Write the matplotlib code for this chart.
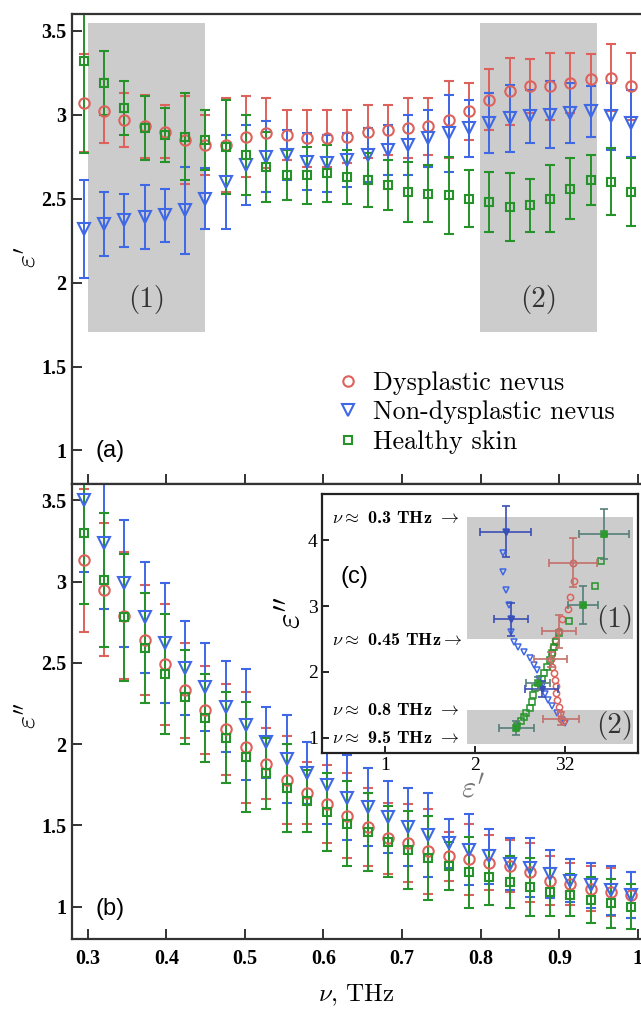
import numpy as np
import matplotlib.pyplot as plt
from matplotlib.lines import Line2D
from matplotlib.patches import Rectangle

plt.rcParams['mathtext.fontset'] = 'cm'
plt.rcParams['font.family'] = 'Liberation Serif'

# frequency grid, THz
freq = [0.295, 0.3208, 0.3466, 0.3724, 0.3982, 0.424, 0.4498, 0.4756, 0.5014, 0.5272,
        0.553, 0.5788, 0.6046, 0.6304, 0.6562, 0.682, 0.7078, 0.7336, 0.7594, 0.7852,
        0.811, 0.8368, 0.8626, 0.8884, 0.9142, 0.94, 0.9658, 0.9916]

# (a) real part eps'
eps1_dys = [3.07, 3.02, 2.97, 2.93, 2.90, 2.85, 2.82, 2.82, 2.87, 2.89, 2.88, 2.86, 2.86, 2.87,
            2.90, 2.91, 2.92, 2.93, 2.97, 3.02, 3.09, 3.14, 3.17, 3.17, 3.19, 3.21, 3.22, 3.17]
eps1_non = [2.32, 2.35, 2.37, 2.39, 2.40, 2.43, 2.50, 2.60, 2.70, 2.75, 2.76, 2.72, 2.71, 2.73,
            2.76, 2.79, 2.82, 2.86, 2.89, 2.92, 2.95, 2.98, 2.99, 3.00, 3.01, 3.02, 2.99, 2.95]
eps1_hea = [3.32, 3.19, 3.04, 2.92, 2.88, 2.87, 2.85, 2.81, 2.76, 2.69, 2.64, 2.64, 2.65, 2.63,
            2.61, 2.58, 2.54, 2.53, 2.52, 2.50, 2.48, 2.45, 2.46, 2.50, 2.56, 2.61, 2.60, 2.54]
err1 = [0.29, 0.19, 0.16, 0.19, 0.16, 0.26, 0.18, 0.28, 0.24, 0.21, 0.15, 0.17, 0.17, 0.16,
        0.16, 0.15, 0.18, 0.17, 0.23, 0.17, 0.18, 0.20, 0.16, 0.20, 0.18, 0.15, 0.20, 0.20]
err1_hea = [0.55, 0.19, 0.16, 0.19, 0.16, 0.26, 0.18, 0.28, 0.24, 0.21, 0.15, 0.17, 0.17, 0.16,
            0.16, 0.15, 0.18, 0.17, 0.23, 0.17, 0.18, 0.20, 0.16, 0.20, 0.18, 0.15, 0.20, 0.20]

# (b) imaginary part eps''
eps2_dys = [3.13, 2.95, 2.79, 2.64, 2.49, 2.33, 2.21, 2.09, 1.98, 1.88, 1.78, 1.70, 1.63, 1.56,
            1.49, 1.42, 1.39, 1.34, 1.31, 1.29, 1.27, 1.25, 1.21, 1.16, 1.14, 1.11, 1.09, 1.07]
eps2_non = [3.50, 3.24, 2.99, 2.78, 2.62, 2.47, 2.35, 2.23, 2.12, 2.01, 1.91, 1.82, 1.75, 1.67,
            1.61, 1.55, 1.49, 1.44, 1.39, 1.35, 1.31, 1.26, 1.24, 1.20, 1.16, 1.13, 1.10, 1.07]
eps2_hea = [3.30, 3.01, 2.78, 2.59, 2.43, 2.29, 2.16, 2.04, 1.92, 1.82, 1.73, 1.65, 1.58, 1.51,
            1.46, 1.40, 1.35, 1.30, 1.25, 1.21, 1.18, 1.15, 1.12, 1.09, 1.07, 1.04, 1.02, 1.00]
err2 = [0.44, 0.41, 0.39, 0.34, 0.37, 0.29, 0.27, 0.28, 0.34, 0.22, 0.27, 0.19, 0.24, 0.26,
        0.24, 0.22, 0.24, 0.26, 0.15, 0.22, 0.17, 0.16, 0.18, 0.15, 0.13, 0.14, 0.15, 0.14]

# (c) inset: eps'' vs eps'
ins_non_x = [2.34, 2.31, 2.31, 2.34, 2.38, 2.40, 2.40, 2.43, 2.48, 2.54, 2.61, 2.65, 2.69, 2.71,
             2.74, 2.78, 2.81, 2.85, 2.91, 2.97, 3.00]
ins_non_y = [4.13, 3.80, 3.52, 3.25, 3.02, 2.81, 2.61, 2.46, 2.38, 2.31, 2.21, 2.11, 2.03, 1.90,
             1.78, 1.67, 1.58, 1.48, 1.38, 1.27, 1.22]
ins_dys_x = [3.09, 3.10, 3.06, 3.03, 2.97, 2.93, 2.89, 2.87, 2.85, 2.84, 2.86, 2.88, 2.89, 2.90,
             2.90, 2.91, 2.93, 2.94, 2.96, 2.98]
ins_dys_y = [3.66, 3.38, 3.13, 2.95, 2.80, 2.62, 2.48, 2.38, 2.28, 2.19, 2.08, 1.98, 1.88, 1.78,
             1.68, 1.58, 1.47, 1.37, 1.29, 1.25]
ins_hea_x = [3.43, 3.40, 3.33, 3.20, 3.04, 2.93, 2.90, 2.88, 2.85, 2.83, 2.80, 2.77, 2.74, 2.70,
             2.67, 2.64, 2.63, 2.61, 2.57, 2.54, 2.51, 2.47, 2.46]
ins_hea_y = [4.09, 3.68, 3.30, 3.01, 2.78, 2.59, 2.46, 2.38, 2.28, 2.18, 2.08, 1.99, 1.90, 1.83,
             1.75, 1.65, 1.55, 1.46, 1.38, 1.31, 1.25, 1.18, 1.15]
# points with error crosses: x, y, xerr, yerr
ins_non_err = [[2.34, 2.40, 2.74], [4.13, 2.80, 1.74], [0.28, 0.19, 0.18], [0.39, 0.25, 0.12]]
ins_dys_err = [[3.09, 2.93, 2.84, 2.96], [3.66, 2.62, 2.19, 1.29], [0.27, 0.19, 0.18, 0.20], [0.37, 0.25, 0.12, 0.10]]
ins_hea_err = [[3.43, 3.20, 2.70, 2.46], [4.09, 3.01, 1.83, 1.15], [0.28, 0.17, 0.13, 0.19], [0.38, 0.29, 0.10, 0.10]]

labels = ['Dysplastic nevus', 'Non-dysplastic nevus', 'Healthy skin']
red, blue, green = '#dd625c', '#3f68e6', '#25932a'

fig = plt.figure(figsize=(6.41, 10.10), dpi=100)
ax1 = fig.add_axes([72/641, 526/1010, 569/641, 470/1010])
ax2 = fig.add_axes([72/641, 71/1010, 569/641, 455/1010])

def style(ax):
    for s in ['top', 'bottom', 'left']:
        ax.spines[s].set_linewidth(1.6)
        ax.spines[s].set_color('#333333')
    ax.spines['right'].set_visible(False)
    ax.set_xlim(0.28, 1.004)
    ax.set_ylim(0.8, 3.6)
    ax.set_xticks([0.3, 0.4, 0.5, 0.6, 0.7, 0.8, 0.9, 1.0])
    ax.set_yticks([1, 1.5, 2, 2.5, 3, 3.5])
    ax.set_yticklabels(['1', '1.5', '2', '2.5', '3', '3.5'])
    ax.tick_params(direction='in', length=7, width=1.4, color='#333333', labelsize=14.5,
                   top=False, right=False, pad=4)
    for t in ax.get_yticklabels() + ax.get_xticklabels():
        t.set_fontweight('bold')

style(ax1)
style(ax2)
ax1.tick_params(labelbottom=False)
ax2.set_xticklabels(['0.3', '0.4', '0.5', '0.6', '0.7', '0.8', '0.9', '1'])
ax2.tick_params(axis='x', pad=7)
for t in ax2.get_xticklabels():
    t.set_fontweight('bold')

ekw = dict(ls='none', capsize=3.5, elinewidth=1.4, capthick=1.4, mfc='none', mew=1.5)
ax1.errorbar(freq, eps1_dys, yerr=err1, marker='o', ms=7.5, color=red, **ekw)
ax1.errorbar(freq, eps1_non, yerr=err1, marker='v', ms=8.5, color=blue, **ekw)
ax1.errorbar(freq, eps1_hea, yerr=err1_hea, marker='s', ms=6, color=green, **ekw)
ax2.errorbar(freq, eps2_dys, yerr=err2, marker='o', ms=7.5, color=red, **ekw)
ax2.errorbar(freq, eps2_non, yerr=err2, marker='v', ms=8.5, color=blue, **ekw)
ax2.errorbar(freq, eps2_hea, yerr=err2, marker='s', ms=6, color=green, **ekw)

# shaded regions in (a)
for x0, x1, tx in [(0.3, 0.449, '(1)'), (0.799, 0.948, '(2)')]:
    ax1.add_patch(Rectangle((x0, 1.707), x1 - x0, 1.84, color='#cccccc', zorder=0, lw=0))
    ax1.text((x0 + x1) / 2, 1.9, tx, family='cmr10', fontsize=21, color='#333333',
             ha='center', va='center')

handles = [Line2D([], [], ls='none', marker='o', ms=7.5, mfc='none', mec=red, mew=1.5),
           Line2D([], [], ls='none', marker='v', ms=8.5, mfc='none', mec=blue, mew=1.5),
           Line2D([], [], ls='none', marker='s', ms=6, mfc='none', mec=green, mew=1.5)]
ax1.legend(handles, labels, loc='upper left', bbox_to_anchor=(0.4675, 0.240), frameon=False,
           prop={'family': 'cmr10', 'size': 18.8}, handlelength=0.8, handletextpad=0.55,
           labelspacing=0.22, borderpad=0, borderaxespad=0)

ax1.text(0.041, 0.07, '(a)', transform=ax1.transAxes, family='Liberation Sans', fontsize=17,
         va='center')
ax2.text(0.041, 0.065, '(b)', transform=ax2.transAxes, family='Liberation Sans', fontsize=17,
         va='center')

fig.text(29/641, 1 - 257/1010, r"$\varepsilon'$", fontsize=20, rotation=90, ha='center', va='center')
fig.text(29/641, 1 - 715/1010, r"$\varepsilon''$", fontsize=20, rotation=90, ha='center', va='center')
fig.text(356/641, 1 - 995/1010, r"$\nu$, THz", family='cmr10', fontsize=18, ha='center', va='center')

# inset (c)
ins = fig.add_axes([322/641, 257/1010, 316/641, 259/1010])
ins.set_xlim(0.30, 3.81)
ins.set_ylim(0.77, 4.70)
for s in ins.spines.values():
    s.set_linewidth(1.6)
    s.set_color('#222222')
ins.set_xticks([1, 2, 3])
ins.set_xticklabels(['1', '2', '32'])
ins.set_yticks([1, 2, 3, 4])
ins.tick_params(direction='in', length=5, width=1.2, labelsize=14, pad=3)
for y0, y1 in [(2.50, 4.35), (0.91, 1.42)]:
    ins.add_patch(Rectangle((1.91, y0), 1.85, y1 - y0, color='#cccccc', zorder=0, lw=0))
ins.text(0.927, 0.514, '(1)', transform=ins.transAxes, family='cmr10', fontsize=21,
         color='#333333', ha='center', va='center')
ins.text(0.927, 0.108, '(2)', transform=ins.transAxes, family='cmr10', fontsize=21,
         color='#333333', ha='center', va='center')

ins.plot(ins_non_x, ins_non_y, ls='none', marker='v', ms=4.5, mfc='none', mec=blue, mew=1.1)
ins.plot(ins_dys_x, ins_dys_y, ls='none', marker='o', ms=4.5, mfc='none', mec=red, mew=1.1)
ins.plot(ins_hea_x, ins_hea_y, ls='none', marker='s', ms=4, mfc='none', mec=green, mew=1.1)
ins.errorbar(ins_non_err[0], ins_non_err[1], xerr=ins_non_err[2], yerr=ins_non_err[3], ls='none',
             marker='v', ms=4, color='#3a4fb5', capsize=3, elinewidth=1.2, capthick=1.2)
ins.errorbar(ins_dys_err[0], ins_dys_err[1], xerr=ins_dys_err[2], yerr=ins_dys_err[3], ls='none',
             marker='o', ms=4.5, mfc='none', color='#c4706a', capsize=3, elinewidth=1.2, capthick=1.2)
ins.errorbar(ins_hea_err[0], ins_hea_err[1], xerr=ins_hea_err[2], yerr=ins_hea_err[3], ls='none',
             marker='o', ms=4, mfc='#2a9a2a', mec='#2a9a2a', color='#557f78', capsize=3,
             elinewidth=1.2, capthick=1.2)

for yy, tx in [(0.907, r'$\nu\approx$ 0.3 THz $\rightarrow$'),
               (0.440, r'$\nu\approx$ 0.45 THz$\rightarrow$'),
               (0.166, r'$\nu\approx$ 0.8 THz $\rightarrow$'),
               (0.058, r'$\nu\approx$ 9.5 THz $\rightarrow$')]:
    ins.text(0.032, yy, tx, transform=ins.transAxes, family='cmb10', fontsize=13, va='center')
ins.text(0.057, 0.68, '(c)', transform=ins.transAxes, family='Liberation Sans', fontsize=17,
         va='center')
ins.text(0.478, -0.14, r"$\varepsilon'$", transform=ins.transAxes, fontsize=22, color='#777777',
         ha='center', va='center')
ins.text(-0.095, 0.54, r"$\varepsilon''$", transform=ins.transAxes, fontsize=24, rotation=90,
         ha='center', va='center')

plt.savefig('out.png', dpi=100)
